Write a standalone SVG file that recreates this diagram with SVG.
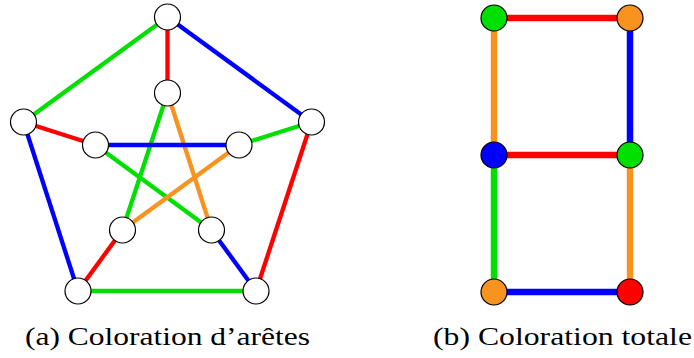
<svg xmlns="http://www.w3.org/2000/svg" width="694" height="358" viewBox="0 0 694 358">
<style>
.n{fill:#fff;stroke:#000;stroke-width:1.2}
.e{stroke-width:4.3;fill:none}
.t{stroke-width:6.5;fill:none}
.r{stroke:#ff0000}.b{stroke:#0000ff}.g{stroke:#00e000}.o{stroke:#f7931e}
.cap{font-family:"Liberation Serif","Times New Roman",serif;font-size:25px;fill:#000}
</style>
<rect width="694" height="358" fill="#fff"/>
<g id="edges-a">
<line class="e g" x1="167.5" y1="17" x2="23.5" y2="122"/>
<line class="e b" x1="167.5" y1="17" x2="311.5" y2="122"/>
<line class="e r" x1="167.5" y1="17" x2="167.5" y2="93"/>
<line class="e r" x1="23.5" y1="122" x2="95.5" y2="145"/>
<line class="e b" x1="23.5" y1="122" x2="78" y2="291"/>
<line class="e g" x1="311.5" y1="122" x2="239" y2="145"/>
<line class="e r" x1="311.5" y1="122" x2="256" y2="291"/>
<line class="e g" x1="78" y1="291" x2="256" y2="291"/>
<line class="e r" x1="78" y1="291" x2="122.5" y2="230"/>
<line class="e b" x1="256" y1="291" x2="211.5" y2="230"/>
<line class="e g" x1="167.5" y1="93" x2="122.5" y2="230"/>
<line class="e o" x1="167.5" y1="93" x2="211.5" y2="230"/>
<line class="e b" x1="95.5" y1="145" x2="239" y2="145"/>
<line class="e g" x1="95.5" y1="145" x2="211.5" y2="230"/>
<line class="e o" x1="239" y1="145" x2="122.5" y2="230"/>
</g>
<g id="a-top"><circle class="n" cx="167.5" cy="17" r="13"/></g>
<g id="a-left"><circle class="n" cx="23.5" cy="122" r="13"/></g>
<g id="a-right"><circle class="n" cx="311.5" cy="122" r="13"/></g>
<g id="a-bl"><circle class="n" cx="78" cy="291" r="13"/></g>
<g id="a-br"><circle class="n" cx="256" cy="291" r="13"/></g>
<g id="a-itop"><circle class="n" cx="167.5" cy="93" r="13"/></g>
<g id="a-ileft"><circle class="n" cx="95.5" cy="145" r="13"/></g>
<g id="a-iright"><circle class="n" cx="239" cy="145" r="13"/></g>
<g id="a-ibl"><circle class="n" cx="122.5" cy="230" r="13"/></g>
<g id="a-ibr"><circle class="n" cx="211.5" cy="230" r="13"/></g>
<g id="edges-b">
<line class="t r" x1="494" y1="18" x2="630" y2="18"/>
<line class="t o" x1="494" y1="18" x2="494" y2="155"/>
<line class="t b" x1="630" y1="18" x2="630" y2="155"/>
<line class="t r" x1="494" y1="155" x2="630" y2="155"/>
<line class="t g" x1="494" y1="155" x2="494" y2="292"/>
<line class="t o" x1="630" y1="155" x2="630" y2="292"/>
<line class="t b" x1="494" y1="292" x2="630" y2="292"/>
</g>
<g id="b-tl"><circle class="n" cx="494" cy="18" r="13" style="fill:#00e000"/></g>
<g id="b-tr"><circle class="n" cx="630" cy="18" r="13" style="fill:#f7931e"/></g>
<g id="b-ml"><circle class="n" cx="494" cy="155" r="13" style="fill:#0000ff"/></g>
<g id="b-mr"><circle class="n" cx="630" cy="155" r="13" style="fill:#00e000"/></g>
<g id="b-bl"><circle class="n" cx="494" cy="292" r="13" style="fill:#f7931e"/></g>
<g id="b-br"><circle class="n" cx="630" cy="292" r="13" style="fill:#ff0000"/></g>
<text class="cap" x="25" y="345" textLength="285" lengthAdjust="spacingAndGlyphs">(a) Coloration d’arêtes</text>
<text class="cap" x="433" y="345" textLength="259" lengthAdjust="spacingAndGlyphs">(b) Coloration totale</text>
</svg>
